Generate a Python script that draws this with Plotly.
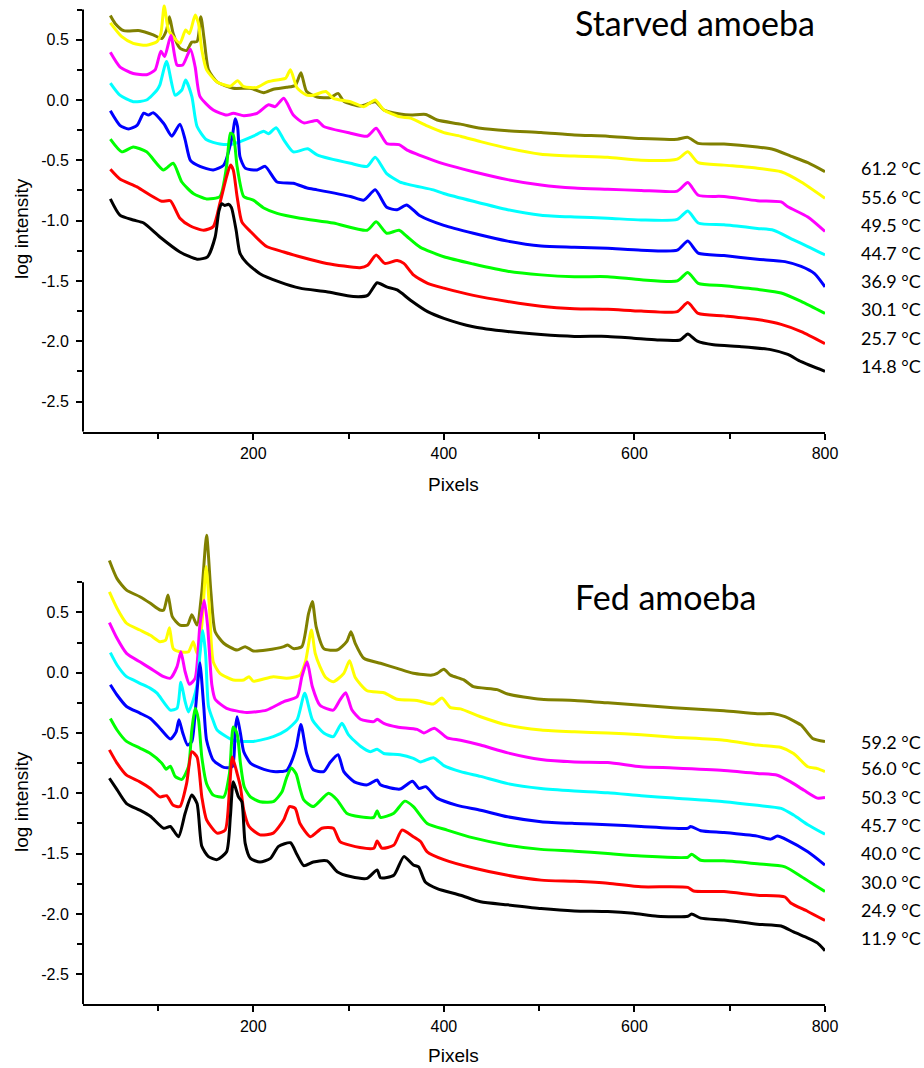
import plotly.graph_objects as go

# ---------------- Starved amoeba (top panel) ----------------
starved_labels = ["61.2 °C", "55.6 °C", "49.5 °C", "44.7 °C", "36.9 °C", "30.1 °C", "25.7 °C", "14.8 °C"]

s612_x = [50, 55, 64, 81, 95, 104, 109, 112, 116, 123, 130, 135.5, 141, 145, 148.5, 153, 162, 179, 197, 211, 221, 235, 244, 250, 256, 267, 281, 289, 295, 312.5, 328, 337, 354, 365, 381, 393, 417.5, 438.5, 467, 502, 537, 572, 607, 645, 656, 667, 694, 729, 746, 764, 782, 800]
s612_y = [0.70, 0.635, 0.575, 0.575, 0.54, 0.51, 0.58, 0.69, 0.55, 0.43, 0.41, 0.48, 0.485, 0.69, 0.50, 0.25, 0.15, 0.097, 0.097, 0.06, 0.089, 0.105, 0.12, 0.225, 0.07, 0.025, 0.02, 0.055, -0.01, -0.05, -0.014, -0.083, -0.116, -0.125, -0.12, -0.166, -0.20, -0.235, -0.255, -0.27, -0.29, -0.30, -0.32, -0.325, -0.31, -0.36, -0.365, -0.39, -0.41, -0.465, -0.52, -0.595]

s556_x = [50, 62, 74, 88, 99, 103, 106.5, 111, 116, 123, 129, 133, 139, 142.5, 146, 151, 162, 176, 183.5, 190, 204, 215, 228, 234, 239, 246, 256, 263, 276, 284, 302, 316, 328, 337, 354, 365, 382.5, 400, 417.5, 438.5, 467, 502, 537, 572, 607, 645, 656, 667, 694, 729, 754, 775, 800]
s556_y = [0.64, 0.525, 0.47, 0.455, 0.485, 0.55, 0.78, 0.58, 0.525, 0.47, 0.58, 0.55, 0.705, 0.635, 0.415, 0.25, 0.15, 0.115, 0.16, 0.11, 0.105, 0.15, 0.17, 0.18, 0.25, 0.10, 0.04, 0.04, 0.07, 0.014, -0.014, -0.055, 0.0, -0.083, -0.14, -0.15, -0.215, -0.27, -0.30, -0.345, -0.40, -0.45, -0.465, -0.475, -0.50, -0.49, -0.43, -0.52, -0.54, -0.565, -0.595, -0.68, -0.815]

s495_x = [50, 60, 74, 88, 97, 103, 107, 113.5, 120, 126, 134, 139, 144, 158, 172, 179, 190, 204, 216, 223, 232, 242, 253, 267, 274, 302, 319.5, 329, 340, 353, 361.5, 389, 400, 431, 467, 502, 537, 572, 607, 645, 656, 667, 694, 729, 754, 761, 782, 800]
s495_y = [0.395, 0.275, 0.22, 0.21, 0.25, 0.405, 0.36, 0.535, 0.29, 0.29, 0.42, 0.275, 0.03, -0.083, -0.125, -0.11, -0.13, -0.11, -0.04, -0.055, 0.014, -0.125, -0.19, -0.17, -0.22, -0.275, -0.30, -0.235, -0.36, -0.37, -0.415, -0.50, -0.53, -0.595, -0.66, -0.705, -0.73, -0.74, -0.75, -0.755, -0.685, -0.79, -0.80, -0.835, -0.845, -0.885, -0.97, -1.09]

s447_x = [50, 60, 74, 88, 99, 102, 109, 118, 125, 129, 135.5, 141, 151, 165, 179, 200, 211, 216, 224, 232, 242, 257, 267, 302, 319.5, 328, 340, 354, 389, 400, 431, 467, 502, 537, 572, 607, 645, 656, 667, 694, 729, 746, 767, 782, 800]
s447_y = [0.14, 0.04, -0.014, 0.0, 0.083, 0.125, 0.32, 0.04, 0.083, 0.165, 0.03, -0.22, -0.33, -0.365, -0.365, -0.30, -0.26, -0.28, -0.23, -0.33, -0.43, -0.405, -0.455, -0.525, -0.55, -0.475, -0.61, -0.68, -0.745, -0.775, -0.84, -0.91, -0.955, -0.97, -0.98, -0.995, -0.99, -0.92, -1.02, -1.035, -1.065, -1.08, -1.16, -1.215, -1.285]

s369_x = [50, 60, 69, 78, 85, 90, 95, 106, 114.5, 123, 128.5, 134, 144, 158, 169, 178, 181, 183.5, 186, 191.5, 204, 212.5, 225, 242, 256.5, 267, 302, 316, 328, 340, 351, 361, 375, 400, 431, 467, 502, 537, 572, 607, 645, 656, 667, 694, 729, 758, 775, 789, 800]
s369_y = [-0.09, -0.21, -0.24, -0.21, -0.11, -0.125, -0.105, -0.195, -0.30, -0.20, -0.33, -0.50, -0.55, -0.58, -0.54, -0.30, -0.155, -0.22, -0.47, -0.565, -0.58, -0.55, -0.68, -0.69, -0.73, -0.745, -0.80, -0.83, -0.745, -0.89, -0.91, -0.87, -0.96, -1.04, -1.105, -1.17, -1.21, -1.22, -1.23, -1.245, -1.245, -1.17, -1.27, -1.29, -1.32, -1.34, -1.38, -1.44, -1.55]

s301_x = [50, 62, 74, 88, 105.6, 116, 125, 137, 151, 165, 172, 176, 179, 183, 190, 200, 211, 225, 249, 284, 319.5, 329, 340, 353, 361, 375, 400, 431, 467, 502, 537, 572, 607, 645, 656, 667, 694, 729, 754, 775, 800]
s301_y = [-0.325, -0.43, -0.39, -0.43, -0.58, -0.525, -0.68, -0.775, -0.82, -0.80, -0.55, -0.275, -0.29, -0.55, -0.80, -0.83, -0.895, -0.94, -0.98, -1.02, -1.08, -1.01, -1.105, -1.08, -1.13, -1.22, -1.30, -1.36, -1.42, -1.45, -1.465, -1.465, -1.49, -1.50, -1.43, -1.52, -1.54, -1.57, -1.60, -1.67, -1.77]

s257_x = [50, 60, 78, 92, 104, 113, 123, 134, 148, 158, 165, 172, 176, 179, 183, 188, 197, 214, 232, 249, 277, 312, 320, 329, 338, 351, 358, 368, 383, 400, 431, 467, 502, 537, 572, 607, 645, 656, 667, 694, 729, 754, 775, 800]
s257_y = [-0.575, -0.655, -0.72, -0.79, -0.84, -0.835, -0.98, -1.045, -1.08, -1.05, -0.855, -0.635, -0.54, -0.58, -0.80, -1.01, -1.09, -1.215, -1.26, -1.30, -1.355, -1.39, -1.37, -1.285, -1.355, -1.33, -1.355, -1.45, -1.52, -1.56, -1.62, -1.67, -1.71, -1.73, -1.735, -1.75, -1.755, -1.68, -1.77, -1.79, -1.82, -1.86, -1.92, -2.02]

s148_x = [50, 60, 74, 85, 102, 123, 141, 152, 160, 164, 167, 170, 174, 177, 182, 186, 193, 207, 228, 249, 277, 305, 320, 330, 340, 351, 365, 383, 400, 431, 467, 502, 537, 572, 599, 624, 648, 656, 666, 683, 712, 743, 761, 775, 800]
s148_y = [-0.82, -0.955, -0.995, -1.02, -1.136, -1.26, -1.32, -1.30, -1.136, -0.92, -0.86, -0.875, -0.865, -0.89, -1.08, -1.27, -1.35, -1.44, -1.51, -1.56, -1.59, -1.63, -1.62, -1.515, -1.55, -1.575, -1.66, -1.755, -1.81, -1.88, -1.92, -1.945, -1.96, -1.96, -1.975, -1.99, -1.99, -1.94, -2.0, -2.03, -2.045, -2.07, -2.11, -2.17, -2.25]

# ---------------- Fed amoeba (bottom panel) ----------------
fed_labels = ["59.2 °C", "56.0 °C", "50.3 °C", "45.7 °C", "40.0 °C", "30.0 °C", "24.9 °C", "11.9 °C"]

f592_x = [49, 57, 67, 81, 92, 102, 106, 110.5, 115, 123, 131, 135.5, 141, 146, 151, 155.5, 160, 169, 183, 191.5, 200, 214, 232, 236, 242, 251, 258, 262, 266, 274, 288, 298, 302.5, 307, 316, 333.5, 351, 368, 387.5, 393, 400, 407, 421, 431, 456, 467, 502, 537, 572, 607, 641, 694, 729, 746, 758, 775, 787, 800]
f592_y = [0.93, 0.78, 0.685, 0.63, 0.575, 0.52, 0.52, 0.645, 0.465, 0.395, 0.395, 0.48, 0.395, 0.67, 1.14, 0.67, 0.34, 0.244, 0.188, 0.216, 0.18, 0.188, 0.216, 0.23, 0.20, 0.216, 0.49, 0.59, 0.38, 0.20, 0.188, 0.257, 0.34, 0.244, 0.12, 0.078, 0.036, -0.005, -0.02, -0.005, 0.028, -0.02, -0.06, -0.116, -0.14, -0.177, -0.22, -0.23, -0.25, -0.27, -0.29, -0.315, -0.34, -0.34, -0.365, -0.435, -0.545, -0.57]

f560_x = [49, 57, 67, 81, 92, 102, 108, 112, 116, 123, 132, 137, 141, 146, 150.5, 154, 158, 165, 179, 190, 195.5, 200, 221, 235, 249, 255, 261, 265, 270, 276, 284, 295, 301, 307, 319.5, 337, 351, 372, 389, 398, 407, 417.5, 438.5, 467, 502, 537, 572, 607, 641, 694, 729, 754, 767, 782, 792, 800]
f560_y = [0.67, 0.535, 0.41, 0.354, 0.31, 0.257, 0.27, 0.373, 0.20, 0.174, 0.174, 0.257, 0.16, 0.395, 0.88, 0.535, 0.09, -0.005, -0.06, -0.06, -0.033, -0.07, -0.033, -0.046, -0.02, 0.10, 0.354, 0.16, 0.05, -0.04, -0.075, -0.005, 0.10, -0.04, -0.15, -0.166, -0.22, -0.23, -0.26, -0.21, -0.29, -0.30, -0.365, -0.435, -0.475, -0.49, -0.50, -0.515, -0.535, -0.56, -0.60, -0.62, -0.67, -0.78, -0.795, -0.82]

f503_x = [49, 57, 67, 81, 92, 106, 113, 120, 124, 128.5, 133, 139, 144, 148.5, 152, 156.5, 160, 172, 193, 214, 232, 246, 251, 256.5, 262, 270, 284, 291, 297, 303.6, 312.5, 326.5, 330, 337, 351, 372, 379, 390, 403.5, 417.5, 438.5, 467, 502, 537, 572, 607, 641, 694, 729, 750, 764, 778, 792, 800]
f503_y = [0.415, 0.285, 0.16, 0.09, 0.036, -0.033, -0.046, 0.05, 0.174, 0.008, -0.096, -0.046, 0.395, 0.60, 0.395, -0.10, -0.22, -0.295, -0.33, -0.31, -0.24, -0.20, -0.033, 0.09, -0.116, -0.27, -0.31, -0.226, -0.166, -0.31, -0.386, -0.406, -0.386, -0.42, -0.45, -0.47, -0.50, -0.46, -0.54, -0.56, -0.60, -0.665, -0.72, -0.74, -0.745, -0.78, -0.79, -0.81, -0.835, -0.85, -0.905, -0.975, -1.04, -1.035]

f457_x = [50, 57, 67, 74, 81, 92, 99, 113, 120, 124, 128.5, 132, 137, 141, 144, 147, 150, 153, 158, 162, 179, 200, 221, 235, 246, 254, 262, 274, 284, 293, 300, 312.5, 323, 330, 337, 354, 368, 375.5, 389, 400, 417.5, 438.5, 467, 502, 537, 572, 607, 641, 694, 729, 754, 767, 782, 800]
f457_y = [0.166, 0.064, -0.033, -0.06, -0.088, -0.13, -0.17, -0.31, -0.295, -0.08, -0.24, -0.325, -0.225, -0.10, 0.15, 0.35, 0.15, -0.28, -0.40, -0.475, -0.56, -0.57, -0.53, -0.475, -0.39, -0.17, -0.39, -0.50, -0.53, -0.42, -0.515, -0.61, -0.655, -0.635, -0.67, -0.68, -0.71, -0.74, -0.705, -0.77, -0.82, -0.86, -0.92, -0.96, -0.98, -0.995, -1.02, -1.04, -1.07, -1.10, -1.125, -1.18, -1.26, -1.34]

f400_x = [50, 57, 67, 81, 92, 102, 113, 119, 122, 126, 131, 135.5, 139, 142, 144, 148, 151, 158, 169, 178, 181, 183, 186.5, 190, 197, 207, 221, 235, 240, 245, 250, 256, 263, 274, 281, 289, 295, 306, 319.5, 330, 333.5, 354, 367, 374, 381, 393, 414, 438.5, 467, 502, 537, 572, 607, 656, 659, 669.6, 694, 729, 743, 750, 761, 782, 800]
f400_y = [-0.10, -0.185, -0.28, -0.335, -0.38, -0.46, -0.55, -0.49, -0.39, -0.50, -0.60, -0.57, -0.335, -0.06, 0.083, -0.28, -0.56, -0.725, -0.785, -0.78, -0.475, -0.365, -0.50, -0.655, -0.75, -0.79, -0.82, -0.81, -0.74, -0.62, -0.43, -0.67, -0.805, -0.82, -0.74, -0.68, -0.82, -0.905, -0.93, -0.89, -0.93, -0.965, -0.90, -0.96, -0.945, -1.04, -1.10, -1.14, -1.195, -1.235, -1.25, -1.26, -1.275, -1.29, -1.275, -1.31, -1.325, -1.355, -1.38, -1.355, -1.39, -1.485, -1.595]

f300_x = [50, 57, 67, 81, 92, 104, 108.5, 113, 118, 125, 132, 135.5, 139, 142.5, 146, 151, 158, 169, 175, 179, 183, 186.5, 190.5, 197, 207, 221, 230, 235, 240, 245, 249, 253, 263, 279, 288, 298, 312, 326.5, 330, 333.5, 347.5, 359, 368, 382.5, 403.5, 431, 467, 502, 537, 572, 607, 656, 660, 669.6, 694, 729, 758, 775, 789, 800]
f300_y = [-0.38, -0.475, -0.57, -0.625, -0.67, -0.75, -0.80, -0.775, -0.86, -0.885, -0.78, -0.475, -0.295, -0.39, -0.70, -0.92, -1.015, -1.03, -0.835, -0.45, -0.505, -0.75, -0.945, -1.03, -1.07, -1.07, -0.99, -0.87, -0.79, -0.84, -0.96, -1.055, -1.11, -1.0, -1.055, -1.165, -1.195, -1.20, -1.145, -1.20, -1.165, -1.065, -1.11, -1.25, -1.305, -1.37, -1.43, -1.465, -1.48, -1.50, -1.52, -1.53, -1.505, -1.555, -1.56, -1.585, -1.61, -1.69, -1.76, -1.815]

f249_x = [49, 57, 67, 81, 92, 102, 109, 116, 123, 130, 135.5, 141, 146, 151, 162, 170.5, 175, 178, 183, 186.5, 190, 195.5, 207, 221, 232, 238, 244, 249, 260, 272, 284, 291, 312, 326.5, 330, 335, 347.5, 356, 368, 375.5, 382.5, 400, 431, 467, 502, 537, 572, 607, 656, 662, 694, 729, 758, 764, 782, 800]
f249_y = [-0.64, -0.75, -0.85, -0.905, -0.96, -1.03, -1.02, -1.10, -1.11, -0.92, -0.655, -0.70, -1.03, -1.22, -1.33, -1.305, -0.97, -0.70, -0.835, -0.945, -1.14, -1.275, -1.345, -1.33, -1.22, -1.11, -1.125, -1.25, -1.36, -1.29, -1.29, -1.40, -1.45, -1.455, -1.395, -1.455, -1.43, -1.305, -1.36, -1.40, -1.485, -1.55, -1.62, -1.68, -1.72, -1.73, -1.745, -1.775, -1.78, -1.81, -1.815, -1.845, -1.86, -1.91, -1.98, -2.055]

f119_x = [49, 57, 67, 81, 92, 106, 113, 121.5, 128.5, 135.5, 141, 146, 153, 162, 172, 176, 179, 184.5, 188, 191.5, 197, 207, 218, 226.5, 239, 246, 253, 263, 277.5, 288, 302, 319.5, 330, 333.5, 347.5, 358, 368, 373.5, 380.5, 393, 417.5, 438.5, 467, 502, 537, 572, 599, 624, 656, 660, 669.6, 694, 729, 754, 767, 782, 792, 800]
f119_y = [-0.875, -0.97, -1.085, -1.14, -1.19, -1.29, -1.275, -1.36, -1.165, -1.015, -1.085, -1.44, -1.525, -1.55, -1.485, -1.19, -0.905, -1.03, -1.07, -1.415, -1.54, -1.57, -1.54, -1.44, -1.41, -1.51, -1.60, -1.57, -1.56, -1.65, -1.69, -1.705, -1.635, -1.70, -1.68, -1.525, -1.595, -1.61, -1.735, -1.79, -1.845, -1.90, -1.925, -1.955, -1.975, -1.98, -1.995, -2.02, -2.02, -2.0, -2.035, -2.05, -2.085, -2.10, -2.15, -2.20, -2.24, -2.305]

line_colors = ["#808000", "#FFFF00", "#FF00FF", "#00FFFF", "#0000FF", "#00FF00", "#FF0000", "#000000"]

starved_series = [(s612_x, s612_y), (s556_x, s556_y), (s495_x, s495_y), (s447_x, s447_y),
                  (s369_x, s369_y), (s301_x, s301_y), (s257_x, s257_y), (s148_x, s148_y)]
fed_series = [(f592_x, f592_y), (f560_x, f560_y), (f503_x, f503_y), (f457_x, f457_y),
              (f400_x, f400_y), (f300_x, f300_y), (f249_x, f249_y), (f119_x, f119_y)]

y_major = [-2.5, -2.0, -1.5, -1.0, -0.5, 0.0, 0.5]
y_minor = [-2.25, -1.75, -1.25, -0.75, -0.25, 0.25, 0.75]
x_major = [200, 400, 600, 800]
x_minor = [100, 300, 500, 700]

fig = go.Figure()
for (xs, ys), c in zip(starved_series, line_colors):
    fig.add_trace(go.Scatter(x=xs, y=ys, mode="lines", xaxis="x", yaxis="y",
                             line=dict(color=c, width=3, shape="spline", smoothing=0.6),
                             showlegend=False, hoverinfo="skip"))
for (xs, ys), c in zip(fed_series, line_colors):
    fig.add_trace(go.Scatter(x=xs, y=ys, mode="lines", xaxis="x2", yaxis="y2",
                             line=dict(color=c, width=3, shape="spline", smoothing=0.6),
                             showlegend=False, hoverinfo="skip"))

W, H = 924, 1068
XL, XR = 83 / W, 825 / W
tickfont = dict(family="Arial, Liberation Sans, sans-serif", size=16, color="black")

def xax(anchor):
    return dict(domain=[XL, XR], range=[21.3, 800], anchor=anchor, showgrid=False, zeroline=False,
                automargin=False,
                showline=True, linecolor="black", linewidth=2,
                ticks="outside", ticklen=6, tickwidth=2, tickcolor="black",
                tickvals=x_major, ticktext=[str(v) for v in x_major], tickfont=tickfont,
                minor=dict(tickvals=x_minor, ticks="outside", ticklen=5, tickwidth=2, tickcolor="black"))

def yax(anchor, dom, rng):
    return dict(domain=dom, range=rng, anchor=anchor, showgrid=False, zeroline=False, showline=False,
                automargin=False,
                ticks="outside", ticklen=6, tickwidth=2, tickcolor="black",
                tickvals=y_major, ticktext=["%.1f" % v for v in y_major], tickfont=tickfont,
                ticklabelstandoff=4,
                minor=dict(tickvals=y_minor, ticks="outside", ticklen=5, tickwidth=2, tickcolor="black"))

fig.update_layout(
    width=W, height=H, autosize=False, margin=dict(l=0, r=0, t=0, b=0, autoexpand=False),
    paper_bgcolor="white", plot_bgcolor="white", showlegend=False,
    xaxis=xax("y"), yaxis=yax("x", [0.59583, 0.99670], [-2.75, 0.8]),
    xaxis2=xax("y2"), yaxis2=yax("x2", [0.05960, 0.50564], [-2.75, 1.2]),
)

shapes = [
    dict(type="line", xref="paper", yref="y", x0=XL, x1=XL, y0=-2.75, y1=0.75, line=dict(color="black", width=2)),
    dict(type="line", xref="paper", yref="y2", x0=XL, x1=XL, y0=-2.75, y1=0.75, line=dict(color="black", width=2)),
]
fig.update_layout(shapes=shapes)

label_font = dict(family="Lato, Noto Sans, sans-serif", size=18, color="black")
title_font = dict(family="Lato, Noto Sans, sans-serif", size=34, color="black")
axis_font = dict(family="Arial, Liberation Sans, sans-serif", size=19, color="black")

ann = []
starved_label_y = [168.3, 196.7, 225.0, 252.7, 281.0, 309.3, 337.7, 366.0]
fed_label_y = [741.7, 768.3, 796.7, 825.0, 853.3, 881.7, 910.0, 938.3]
for t, py in zip(starved_labels, starved_label_y):
    ann.append(dict(text=t, x=859 / W, y=1 - py / H, xref="paper", yref="paper",
                    xanchor="left", yanchor="middle", showarrow=False, font=label_font))
for t, py in zip(fed_labels, fed_label_y):
    ann.append(dict(text=t, x=859 / W, y=1 - py / H, xref="paper", yref="paper",
                    xanchor="left", yanchor="middle", showarrow=False, font=label_font))

ann.append(dict(text="Starved amoeba", x=573 / W, y=1 - 23 / H, xref="paper", yref="paper",
                xanchor="left", yanchor="middle", showarrow=False, font=title_font))
ann.append(dict(text="Fed amoeba", x=573 / W, y=1 - 596 / H, xref="paper", yref="paper",
                xanchor="left", yanchor="middle", showarrow=False, font=title_font))

for py in (484, 1055):
    ann.append(dict(text="Pixels", x=453.5 / W, y=1 - py / H, xref="paper", yref="paper",
                    xanchor="center", yanchor="middle", showarrow=False, font=axis_font))
for py in (229, 802):
    ann.append(dict(text="log intensity", x=21 / W, y=1 - py / H, xref="paper", yref="paper",
                    xanchor="center", yanchor="middle", textangle=-90, showarrow=False, font=axis_font))

fig.update_layout(annotations=ann)
fig.write_html("out.html",
               config={"responsive": False, "displayModeBar": False},
               post_script="document.body.style.margin='0px';document.body.style.overflow='hidden';")
